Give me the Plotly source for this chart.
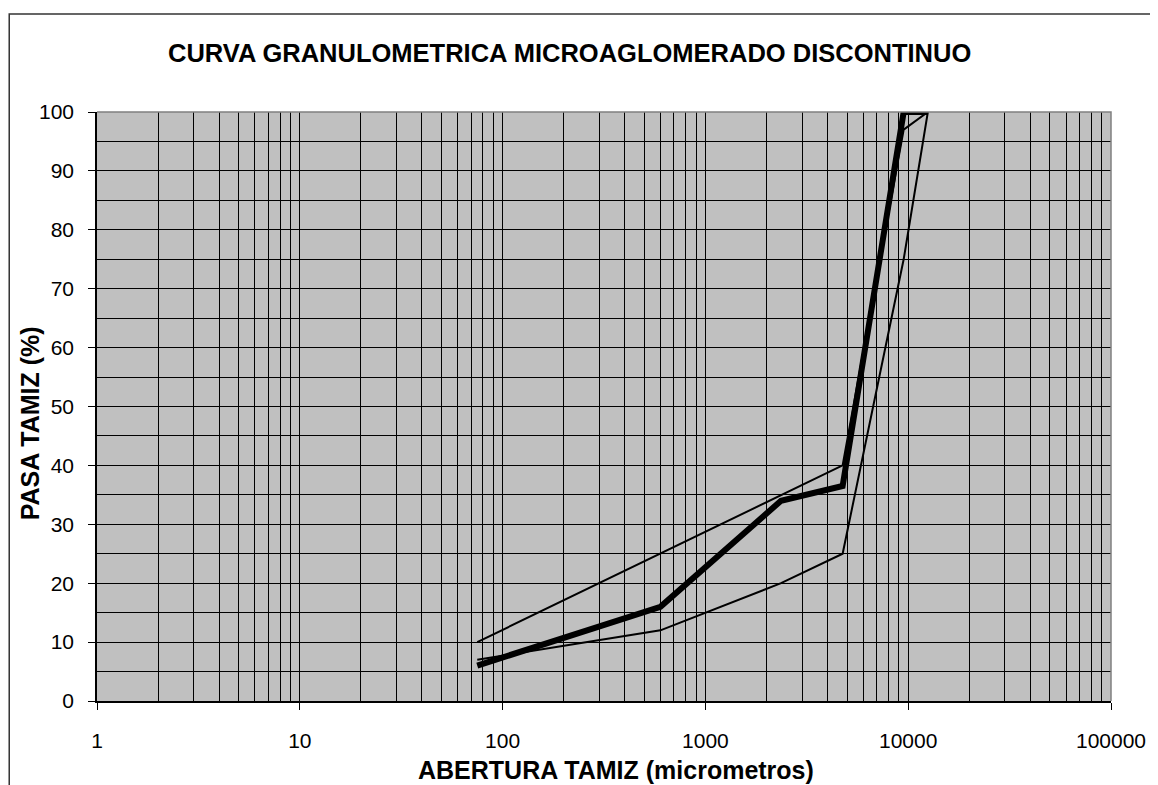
import plotly.graph_objects as go

# Data
abertura = [75, 600, 2360, 4750, 9500, 12500]          # micrometres
pasa_curva = [6, 16, 34, 36.5, 100, 100]               # thick curve
pasa_superior = [10, 25, 35, 40, 97, 100]              # upper limit
pasa_inferior = [7, 12, 20, 25, 75, 100]               # lower limit

x_tickvals = [1, 10, 100, 1000, 10000, 100000]
x_ticktext = ["1", "10", "100", "1000", "10000", "100000"]
y_tickvals = [0, 10, 20, 30, 40, 50, 60, 70, 80, 90, 100]

OFF = 8  # page body margin
W, H = 1158 - OFF, 785 - OFF
L, R, T, B = 97 - OFF, 1116 - OFF, 112 - OFF, 701 - OFF   # plot-area pixel bounds (figure coords)

def px(x):
    return (x - OFF - L) / (R - L)

def py(y):
    return (B - (y - OFF)) / (B - T)

fig = go.Figure()
fig.add_trace(go.Scatter(x=abertura, y=pasa_superior, mode="lines",
                         line=dict(color="black", width=2), showlegend=False))
fig.add_trace(go.Scatter(x=abertura, y=pasa_inferior, mode="lines",
                         line=dict(color="black", width=2), showlegend=False))
fig.add_trace(go.Scatter(x=abertura, y=pasa_curva, mode="lines",
                         line=dict(color="black", width=6), showlegend=False))

minor_x = [m * 10 ** d for d in range(0, 5) for m in range(2, 10)]

fig.update_layout(
    width=W, height=H,
    margin=dict(l=L, r=W - R, t=T, b=H - B, pad=0),
    paper_bgcolor="white",
    plot_bgcolor="#C0C0C0",
    font=dict(family="Liberation Sans, Arial, sans-serif", color="black", size=21),
    xaxis=dict(
        type="log", range=[0, 5],
        tickvals=x_tickvals, ticktext=x_ticktext,
        showgrid=True, gridcolor="black", gridwidth=1,
        minor=dict(tickvals=minor_x, showgrid=True, gridcolor="black",
                   gridwidth=1, ticks=""),
        ticks="outside", ticklen=7, tickcolor="black", tickwidth=1,
        showline=True, linecolor="black", linewidth=1.5,
        zeroline=False, ticklabelstandoff=13,
        tickfont=dict(size=21),
    ),
    yaxis=dict(
        range=[0, 100], tickvals=y_tickvals,
        showgrid=True, gridcolor="black", gridwidth=1,
        minor=dict(dtick=5, showgrid=True, gridcolor="black",
                   gridwidth=1, ticks=""),
        ticks="outside", ticklen=7, tickcolor="black", tickwidth=1,
        showline=True, linecolor="black", linewidth=1.5,
        zeroline=False, ticklabelstandoff=10,
        tickfont=dict(size=21),
    ),
    shapes=[
        # outer chart frame (left, top, right)
        dict(type="path", xref="paper", yref="paper",
             path=f"M {px(8.8)} {py(800)} L {px(8.8)} {py(14)} L {px(1156.5)} {py(14)} L {px(1156.5)} {py(800)}",
             line=dict(color="#333333", width=1.5)),
        # grey plot-area outline (top/right)
        dict(type="path", xref="paper", yref="paper", layer="above",
             path="M 0 1 L 1 1 L 1 0",
             line=dict(color="#808080", width=1.5)),
    ],
    annotations=[
        dict(text="<b>CURVA GRANULOMETRICA MICROAGLOMERADO DISCONTINUO</b>",
             xref="paper", yref="paper", x=px(572), y=py(53),
             xanchor="center", yanchor="middle", showarrow=False,
             font=dict(size=25.5)),
        dict(text="<b>ABERTURA TAMIZ (micrometros)</b>",
             xref="paper", yref="paper", x=px(619), y=py(770),
             xanchor="center", yanchor="middle", showarrow=False,
             font=dict(size=25)),
        dict(text="<b>PASA TAMIZ (%)</b>", textangle=-90,
             xref="paper", yref="paper", x=px(30), y=py(423),
             xanchor="center", yanchor="middle", showarrow=False,
             font=dict(size=25)),
    ],
)

fig.write_html("out.html")
